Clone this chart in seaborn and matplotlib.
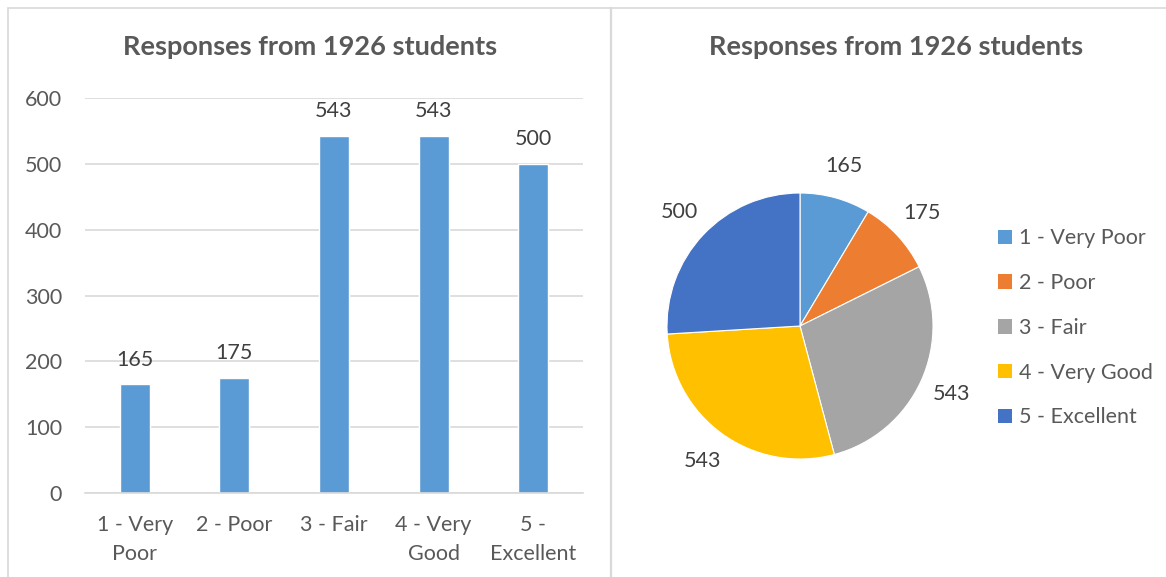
import matplotlib
matplotlib.use("Agg")
import matplotlib.pyplot as plt
import seaborn as sns
import pandas as pd
from matplotlib.lines import Line2D
from matplotlib.patches import Patch

# Survey data
categories = ["1 - Very Poor", "2 - Poor", "3 - Fair", "4 - Very Good", "5 - Excellent"]
tick_labels = ["1 - Very\nPoor", "2 - Poor", "3 - Fair", "4 - Very\nGood", "5 -\nExcellent"]
responses = [165, 175, 543, 543, 500]
title = "Responses from 1926 students"

bar_color = "#5B9BD5"
pie_colors = ["#5B9BD5", "#ED7D31", "#A5A5A5", "#FFC000", "#4472C4"]
text_color = "#595959"
label_color = "#404040"
grid_color = "#D9D9D9"

sns.set_theme(style="white")
plt.rcParams["font.family"] = ["Lato", "DejaVu Sans"]

df = pd.DataFrame({"category": categories, "responses": responses})

fs = 15.5
fig = plt.figure(figsize=(11.66, 5.77), dpi=100)

# panel borders (figure coords)
W, H = 1166, 577
def fx(px): return px / W
def fy(py): return 1 - py / H
fig.add_artist(Line2D([fx(8), 1], [fy(8), fy(8)], color=grid_color, lw=1.2))
fig.add_artist(Line2D([fx(8), fx(8)], [0, fy(8)], color=grid_color, lw=1.2))
fig.add_artist(Line2D([fx(611), fx(611)], [0, fy(8)], color=grid_color, lw=1.6))

# --- bar chart ---
ax1 = fig.add_axes([fx(85), fy(493), fx(583) - fx(85), fy(98) - fy(493)])
sns.barplot(data=df, x="category", y="responses", color=bar_color, width=0.3,
            saturation=1, ax=ax1)
ax1.set_ylim(0, 600)
ax1.set_xlim(-0.5, 4.5)
ax1.set_yticks(range(0, 601, 100))
ax1.yaxis.grid(True, color=grid_color, lw=1.2)
ax1.set_axisbelow(True)
for s in ["top", "right", "left"]:
    ax1.spines[s].set_visible(False)
ax1.spines["bottom"].set_color(grid_color)
ax1.spines["bottom"].set_linewidth(1.2)
ax1.set_xticks(range(len(categories)))
ax1.set_xticklabels(tick_labels, fontsize=fs, color=text_color, linespacing=1.55)
ax1.tick_params(axis="y", labelsize=fs, labelcolor=text_color, length=0, pad=16.5)
ax1.tick_params(axis="x", length=0, pad=16)
ax1.set_xlabel("")
ax1.set_ylabel("")
for i, v in enumerate(responses):
    ax1.text(i, v + 22, str(v), ha="center", va="bottom", fontsize=fs, color=label_color)
fig.text(fx(310), fy(47), title, ha="center", va="center", fontsize=19.5,
         fontweight="bold", color=text_color)

# --- pie chart ---
side = 399
ax2 = fig.add_axes([fx(800 - side / 2), fy(326 + side / 2), side / W, side / H])
wedges, texts = ax2.pie(responses, colors=pie_colors, startangle=90, counterclock=False,
                        labels=[str(v) for v in responses], labeldistance=1.25,
                        wedgeprops=dict(edgecolor="white", linewidth=0.8),
                        textprops=dict(fontsize=fs, color=label_color))
for t in texts:
    t.set_ha("center")
    t.set_va("center")
ax2.set_xlim(-1.5, 1.5)
ax2.set_ylim(-1.5, 1.5)
ax2.set_aspect("equal")
fig.text(fx(896), fy(47), title, ha="center", va="center", fontsize=19.5,
         fontweight="bold", color=text_color)

handles = [Patch(facecolor=c, edgecolor="none") for c in pie_colors]
fig.legend(handles, categories, loc="upper left", bbox_to_anchor=(fx(979), fy(209)),
           frameon=False, fontsize=fs, labelcolor=text_color, handlelength=0.65,
           handleheight=0.65, handletextpad=0.3, labelspacing=1.15)

fig.savefig("out.png", dpi=100, facecolor="white")
